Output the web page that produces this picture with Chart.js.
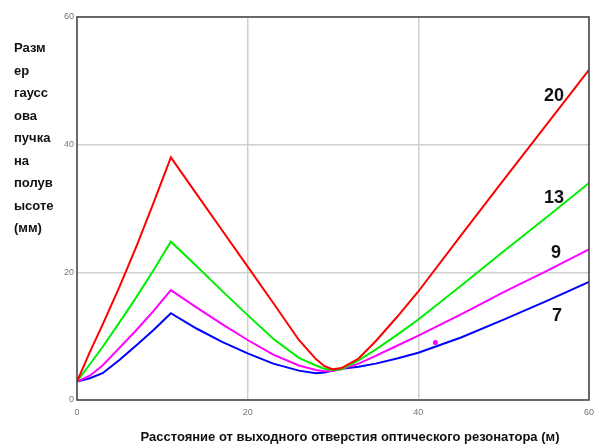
<!DOCTYPE html>
<html>
<head>
<meta charset="utf-8">
<script src="https://cdn.jsdelivr.net/npm/chart.js@4.4.1/dist/chart.umd.min.js"></script>
<style>
  html, body { margin: 0; padding: 0; background: #fff; }
  #wrap { width: 601px; height: 448px; position: relative; }
</style>
</head>
<body>
<div id="wrap"><canvas id="beamChart"></canvas></div>
<script>
// расстояние от резонатора, м
const distance = [0, 1.5, 3, 5, 7, 9, 11, 14, 17, 20, 23, 26, 28, 29, 30, 31, 33, 35, 37.5, 40, 45, 50, 55, 60];

// размер пучка на полувысоте, мм
const beam20 = [2.9, 7.5, 11.8, 17.8, 24.2, 31.0, 38.0, 32.3, 26.6, 20.9, 15.2, 9.4, 6.4, 5.3, 4.8, 5.0, 6.5, 9.2, 13.0, 17.0, 25.8, 34.5, 43.1, 51.7];
const beam13 = [2.9, 5.6, 8.3, 12.2, 16.2, 20.4, 24.8, 21.0, 17.1, 13.3, 9.6, 6.6, 5.4, 4.9, 4.7, 4.8, 6.2, 7.9, 10.2, 12.6, 17.9, 23.3, 28.6, 34.0];
const beam9 = [2.9, 3.8, 5.4, 8.2, 11.0, 14.0, 17.2, 14.5, 11.9, 9.4, 7.1, 5.4, 4.7, 4.5, 4.6, 4.8, 5.7, 6.9, 8.5, 10.1, 13.4, 16.9, 20.2, 23.6];
const beam7 = [2.9, 3.4, 4.2, 6.3, 8.6, 11.0, 13.6, 11.2, 9.1, 7.3, 5.7, 4.6, 4.2, 4.3, 4.6, 4.9, 5.2, 5.7, 6.5, 7.4, 9.8, 12.6, 15.5, 18.5];

// одиночная точка на графике
const dotX = [42];
const dotY = [9.0];

const curveNames = ['20', '13', '9', '7'];
const xTicks = [0, 20, 40, 60];
const yTicks = [0, 20, 40, 60];

const yTitle = ['Разм', 'ер', 'гаусс', 'ова', 'пучка', 'на', 'полув', 'ысоте', '(мм)'];
const xTitle = 'Расстояние от выходного отверстия оптического резонатора (м)';

function pts(ys) {
  return distance.map((x, i) => ({ x: x, y: ys[i] }));
}

const colors = ['#ff0000', '#00ee00', '#ff00ff', '#0000ff'];
const allSeries = [beam20, beam13, beam9, beam7];

const datasets = allSeries.map((s, i) => ({
  label: curveNames[i],
  data: pts(s),
  borderColor: colors[i],
  borderWidth: 2,
  pointRadius: 0,
  tension: 0,
  fill: false
}));
datasets.push({
  label: 'dot',
  data: dotX.map((x, i) => ({ x: x, y: dotY[i] })),
  showLine: false,
  pointRadius: 2.5,
  pointBackgroundColor: '#ff00ff',
  pointBorderWidth: 0
});

// подписи и рамка
const extras = {
  id: 'extras',
  afterDraw(chart) {
    const c = chart.ctx;
    const a = chart.chartArea;
    c.save();
    c.strokeStyle = '#444';
    c.lineWidth = 1.5;
    c.strokeRect(a.left, a.top, a.right - a.left, a.bottom - a.top);

    c.fillStyle = '#111';
    c.font = 'bold 13px "Liberation Sans", Arial, sans-serif';
    c.textAlign = 'left';
    c.textBaseline = 'alphabetic';
    yTitle.forEach((t, i) => c.fillText(t, 14, 52 + i * 22.5));

    c.textAlign = 'center';
    c.fillText(xTitle, 350, 441);

    c.font = 'bold 18px "Liberation Sans", Arial, sans-serif';
    const labelPos = [[554, 101], [554, 203], [556, 258], [557, 321]];
    curveNames.forEach((t, i) => c.fillText(t, labelPos[i][0], labelPos[i][1]));
    c.restore();
  }
};

new Chart(document.getElementById('beamChart'), {
  type: 'line',
  data: { datasets: datasets },
  options: {
    responsive: true,
    maintainAspectRatio: false,
    animation: false,
    layout: { padding: { left: 0, top: 17, right: 11, bottom: 0 } },
    plugins: { legend: { display: false }, tooltip: { enabled: false } },
    scales: {
      x: {
        type: 'linear',
        min: 0,
        max: 60,
        afterFit(scale) { scale.height = 48; },
        afterBuildTicks(scale) { scale.ticks = xTicks.map(v => ({ value: v })); },
        grid: { color: '#cfcfcf', lineWidth: 1.5, drawTicks: false },
        border: { display: false },
        ticks: {
          padding: 7,
          color: '#777',
          font: { size: 9, family: '"Liberation Sans", Arial, sans-serif' }
        }
      },
      y: {
        min: 0,
        max: 60,
        afterFit(scale) { scale.width = 77; },
        afterBuildTicks(scale) { scale.ticks = yTicks.map(v => ({ value: v })); },
        grid: { color: '#cfcfcf', lineWidth: 1.5, drawTicks: false },
        border: { display: false },
        ticks: {
          padding: 3,
          color: '#777',
          font: { size: 9, family: '"Liberation Sans", Arial, sans-serif' }
        }
      }
    }
  },
  plugins: [extras]
});
</script>
</body>
</html>
